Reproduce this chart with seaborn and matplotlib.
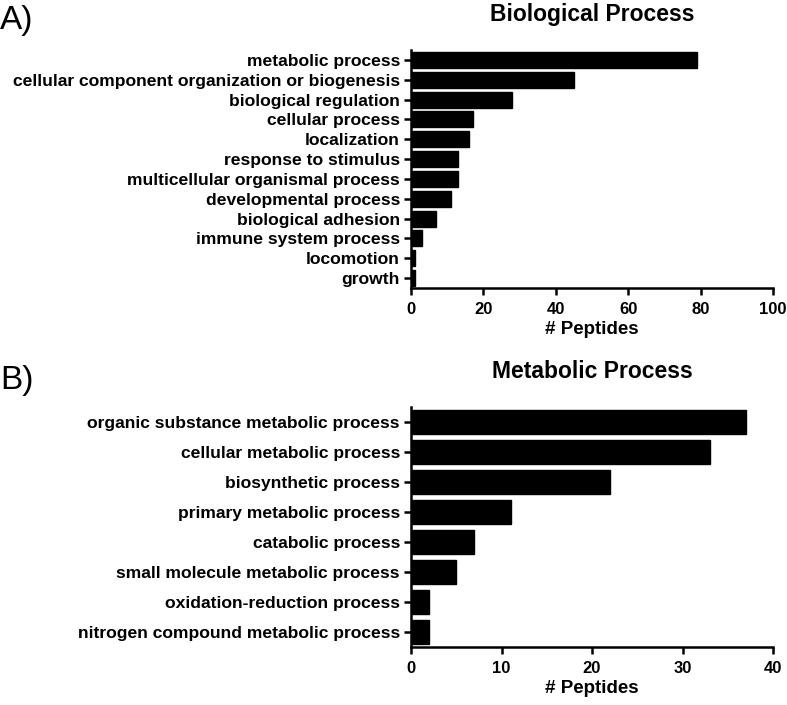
import matplotlib
matplotlib.use("Agg")
import matplotlib.pyplot as plt
import seaborn as sns
import pandas as pd

sns.set_theme(style="ticks")
plt.rcParams["font.family"] = ["Liberation Sans", "DejaVu Sans"]
plt.rcParams["text.color"] = "black"
plt.rcParams["xtick.color"] = "black"
plt.rcParams["ytick.color"] = "black"
plt.rcParams["axes.labelcolor"] = "black"

bio_terms = [
    "metabolic process",
    "cellular component organization or biogenesis",
    "biological regulation",
    "cellular process",
    "localization",
    "response to stimulus",
    "multicellular organismal process",
    "developmental process",
    "biological adhesion",
    "immune system process",
    "locomotion",
    "growth",
]
bio_counts = [79, 45, 28, 17, 16, 13, 13, 11, 7, 3, 1, 1]

met_terms = [
    "organic substance metabolic process",
    "cellular metabolic process",
    "biosynthetic process",
    "primary metabolic process",
    "catabolic process",
    "small molecule metabolic process",
    "oxidation-reduction process",
    "nitrogen compound metabolic process",
]
met_counts = [37, 33, 22, 11, 7, 5, 2, 2]

bio = pd.DataFrame({"term": bio_terms, "peptides": bio_counts})
met = pd.DataFrame({"term": met_terms, "peptides": met_counts})

fig = plt.figure(figsize=(7.87, 7.05), dpi=100)
ax1 = fig.add_axes([411 / 787, 1 - 288 / 705, 362 / 787, 238 / 705])
ax2 = fig.add_axes([411 / 787, 1 - 647 / 705, 362 / 787, 240 / 705])


def panel(ax, df, title, xmax, step):
    sns.barplot(data=df, y="term", x="peptides", ax=ax, color="black",
                edgecolor="black", width=0.8, saturation=1)
    ax.set_xlim(0, xmax)
    ax.set_xticks(range(0, xmax + 1, step))
    ax.set_ylabel("")
    ax.set_xlabel("# Peptides", fontsize=13.5, fontweight="bold", labelpad=3)
    ax.set_title(title, fontsize=16.5, fontweight="bold", pad=21)
    sns.despine(ax=ax)
    for s in ["left", "bottom"]:
        ax.spines[s].set_linewidth(1.8)
        ax.spines[s].set_color("black")
    ax.tick_params(axis="both", width=1.8, length=5, color="black", pad=3)
    ax.tick_params(axis="y", labelsize=12.6)
    ax.tick_params(axis="x", labelsize=12, pad=5)
    for lbl in ax.get_yticklabels() + ax.get_xticklabels():
        lbl.set_fontweight("bold")


panel(ax1, bio, "Biological Process", 100, 20)
panel(ax2, met, "Metabolic Process", 40, 10)

fig.text(0.0, 1 - 20 / 705, "A)", fontsize=24, va="center", ha="left")
fig.text(0.0, 1 - 380 / 705, "B)", fontsize=24, va="center", ha="left")

fig.savefig("out.png", dpi=100)
